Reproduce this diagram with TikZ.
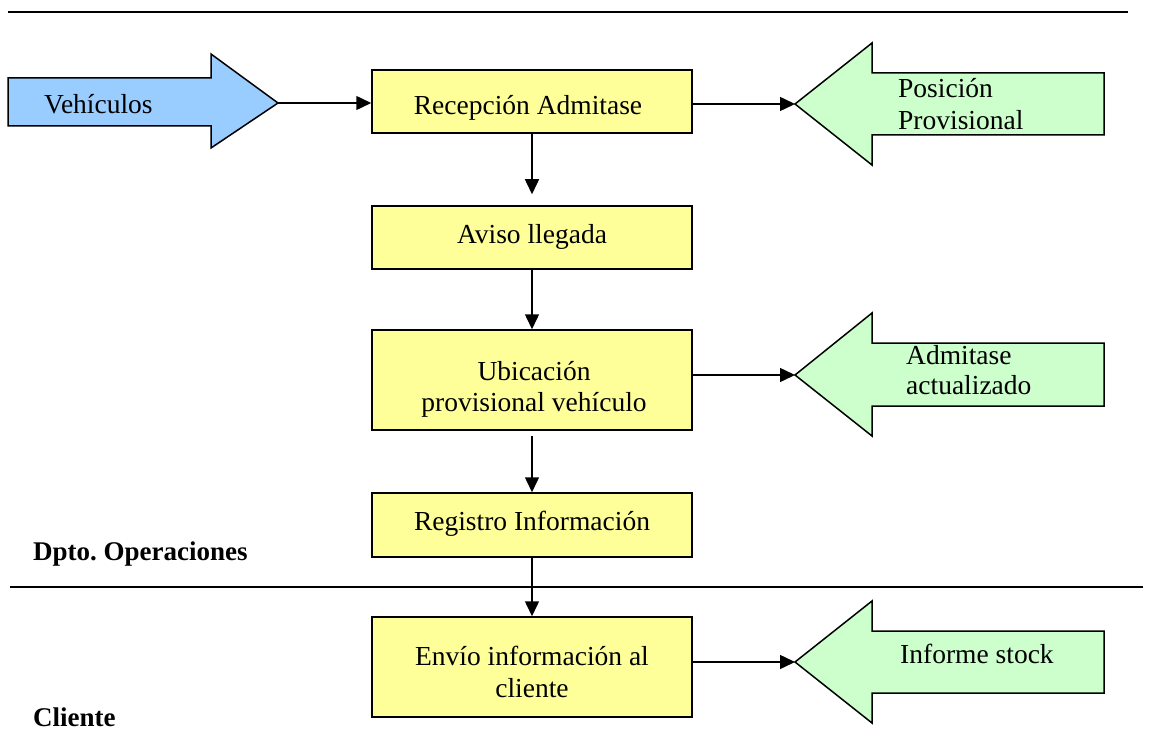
\documentclass[tikz,border=0pt]{standalone}
\usepackage{fontspec}
\setmainfont{Liberation Serif}
\usetikzlibrary{arrows.meta}
\definecolor{boxyellow}{HTML}{FFFF99}
\definecolor{inblue}{HTML}{99CCFF}
\definecolor{outgreen}{HTML}{CCFFCC}
\frenchspacing
\begin{document}
\begin{tikzpicture}[x=1pt,y=-1pt,
  proc/.style={draw, line width=1.5pt, fill=boxyellow, minimum width=320pt, inner sep=0pt},
  txt/.style={anchor=base, inner sep=0pt, font=\fontsize{27.5}{31}\selectfont},
  ltxt/.style={txt, anchor=base west},
  lane/.style={anchor=base west, inner sep=0pt, font=\fontsize{27}{31}\selectfont\bfseries},
  conn/.style={line width=1.5pt, -{Triangle[length=15pt,width=14pt]}},
  bigarrow/.style={draw, line width=1.5pt, line join=miter},
  sep/.style={line width=1.5pt}
]
\useasboundingbox (0,0) rectangle (1157,749);

% lane separators
\draw[sep] (8,12) -- (1128,12);
\draw[sep] (10,587) -- (1143,587);

% process boxes
\node[proc, minimum height=63pt]  (b1) at (532,101.5) {};
\node[proc, minimum height=63pt]  (b2) at (532,237.5) {};
\node[proc, minimum height=100pt] (b3) at (532,380) {};
\node[proc, minimum height=64pt]  (b4) at (532,525) {};
\node[proc, minimum height=100pt] (b5) at (532,667) {};

\node[txt] (t1)  at (528,115) {Recepción Admitase};
\node[txt] (t2)  at (532,243) {Aviso llegada};
\node[txt] (t3a) at (534,380) {Ubicación};
\node[txt] (t3b) at (534,411) {provisional vehículo};
\node[txt] (t4)  at (532,530) {Registro Información};
\node[txt] (t5a) at (532,665) {Envío información al};
\node[txt] (t5b) at (532,697) {cliente};

% input arrow
\draw[bigarrow, fill=inblue] (8,78) -- (211,78) -- (211,54) -- (278,103) -- (211,148) -- (211,126) -- (8,126) -- cycle;
\coordinate (vtip) at (278,103);
\node[ltxt] (tv) at (44,114) {Vehículos};

% output arrows
\draw[bigarrow, fill=outgreen] (795,104) -- (872,43) -- (872,73) -- (1104,73) -- (1104,135) -- (872,135) -- (872,165) -- cycle;
\coordinate (g1) at (795,104);
\node[ltxt] (tg1a) at (898,98) {Posición};
\node[ltxt] (tg1b) at (898,130) {Provisional};

\draw[bigarrow, fill=outgreen] (795,375) -- (872,313) -- (872,343) -- (1104,343) -- (1104,406) -- (872,406) -- (872,436) -- cycle;
\coordinate (g2) at (795,375);
\node[ltxt] (tg2a) at (906,364) {Admitase};
\node[ltxt] (tg2b) at (906,394) {actualizado};

\draw[bigarrow, fill=outgreen] (795,662) -- (872,601) -- (872,631) -- (1104,631) -- (1104,693) -- (872,693) -- (872,723) -- cycle;
\coordinate (g3) at (795,662);
\node[ltxt] (tg3) at (900,663) {Informe stock};

% connectors
\draw[conn] (vtip) -- (vtip -| b1.west);
\draw[conn] (b1.east |- g1) -- (g1);
\draw[conn] (b3.east |- g2) -- (g2);
\draw[conn] (b5.east |- g3) -- (g3);
\draw[conn, shorten >=11pt] (b1.south) -- (b2.north);
\draw[conn] (b2.south) -- (b3.north);
\draw[conn, shorten <=5pt] (b3.south) -- (b4.north);
\draw[conn] (b4.south) -- (b5.north);

% lane labels
\node[lane] (l1) at (33,560) {Dpto. Operaciones};
\node[lane] (l2) at (33,726) {Cliente};
\end{tikzpicture}
\end{document}
